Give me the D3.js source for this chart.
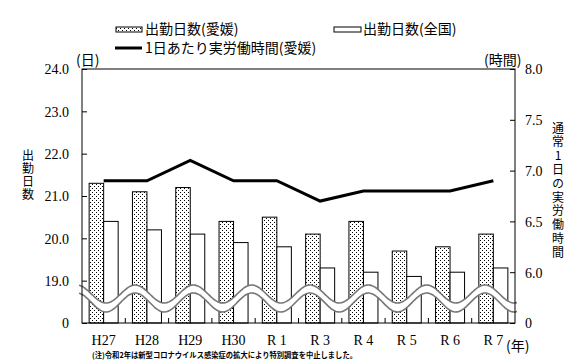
<!DOCTYPE html>
<html><head><meta charset="utf-8">
<script src="https://cdn.jsdelivr.net/npm/d3@7"></script>
<style>
body{margin:0;background:#fff;}
svg{display:block;}
text{font-family:"Noto Sans CJK JP","Noto Sans",sans-serif;fill:#000;}
.num{font-family:"Liberation Serif","DejaVu Serif",serif;}
.vert{writing-mode:vertical-rl;text-orientation:upright;}
</style></head>
<body><svg id="c" width="578" height="360"></svg>
<script>
const categories = ["H27","H28","H29","H30","R 1","R 3","R 4","R 5","R 6","R 7"];
const daysEhime = [21.3,21.1,21.2,20.4,20.5,20.1,20.4,19.7,19.8,20.1];
const daysNational = [20.4,20.2,20.1,19.9,19.8,19.3,19.2,19.1,19.2,19.3];
const hoursEhime = [6.9,6.9,7.1,6.9,6.9,6.7,6.8,6.8,6.8,6.9];
const leftTicks = [18,19,20,21,22,23,24];
const rightTicks = [5.5,6.0,6.5,7.0,7.5,8.0];
const seriesNames = ["出勤日数(愛媛)","出勤日数(全国)","1日あたり実労働時間(愛媛)"];

const svg = d3.select("#c");
const L=82, R=515, T=69, B=323;

const defs = svg.append("defs");
const pat = defs.append("pattern").attr("id","dots").attr("patternUnits","userSpaceOnUse")
  .attr("width",4).attr("height",4);
pat.append("rect").attr("width",4).attr("height",4).attr("fill","#fff");
pat.append("rect").attr("x",0).attr("y",0).attr("width",1).attr("height",1).attr("fill","#000");
pat.append("rect").attr("x",2).attr("y",2).attr("width",1).attr("height",1).attr("fill","#000");

const x = d3.scaleBand().domain(categories).range([L,R]).paddingInner(0.33).paddingOuter(0.165);
const xs = d3.scaleBand().domain(["e","n"]).range([0,x.bandwidth()]);
const yL = d3.scaleLinear().domain([18,24]).range([B,T]);
const yR = d3.scaleLinear().domain([5.5,8]).range([B,T]);

// bars
const g = svg.append("g");
g.selectAll("rect.e").data(categories).join("rect")
  .attr("x",(d)=>x(d)+xs("e")).attr("width",xs.bandwidth())
  .attr("y",(d,i)=>yL(daysEhime[i])).attr("height",(d,i)=>B-yL(daysEhime[i]))
  .attr("fill","url(#dots)").attr("stroke","#000").attr("stroke-width",1);
g.selectAll("rect.n").data(categories).join("rect")
  .attr("x",(d)=>x(d)+xs("n")).attr("width",xs.bandwidth())
  .attr("y",(d,i)=>yL(daysNational[i])).attr("height",(d,i)=>B-yL(daysNational[i]))
  .attr("fill","#fff").attr("stroke","#000").attr("stroke-width",1);

// break wave
const P=58.3, x0=106;
const up = xx => 294 + 9*Math.cos(2*Math.PI*(xx-x0)/P);
const lo = xx => 302.5 + 9.5*Math.cos(2*Math.PI*(xx-x0)/P);
const xsW = d3.range(79, 517.5, 1);
const area = d3.area().x(d=>d).y0(d=>up(d)).y1(d=>lo(d)).curve(d3.curveBasis);
svg.append("path").datum(xsW).attr("d",area).attr("fill","#fff");
const lnU = d3.line().x(d=>d).y(d=>up(d)).curve(d3.curveBasis);
const lnL = d3.line().x(d=>d).y(d=>lo(d)).curve(d3.curveBasis);
svg.append("path").datum(xsW).attr("d",lnU).attr("fill","none").attr("stroke","#777").attr("stroke-width",1.6);
svg.append("path").datum(xsW).attr("d",lnL).attr("fill","none").attr("stroke","#777").attr("stroke-width",1.6);

// frame
svg.append("rect").attr("x",L).attr("y",T).attr("width",R-L).attr("height",B-T)
  .attr("fill","none").attr("stroke","#000").attr("stroke-width",1);

// left axis
const la = svg.append("g").attr("transform",`translate(${L},0)`)
  .call(d3.axisRight(yL).tickValues(leftTicks).tickSize(5).tickFormat(d=>d===18?"0":d3.format(".1f")(d)));
la.select(".domain").remove();
la.selectAll("line").attr("stroke","#000");
la.selectAll("text").attr("class","num").attr("x",-13).attr("text-anchor","end")
  .style("font-size","14px").attr("dy","0.35em");

// right axis
const ra = svg.append("g").attr("transform",`translate(${R},0)`)
  .call(d3.axisLeft(yR).tickValues(rightTicks).tickSize(5).tickFormat(d=>d===5.5?"0":d3.format(".1f")(d)));
ra.select(".domain").remove();
ra.selectAll("line").attr("stroke","#000");
ra.selectAll("text").attr("class","num").attr("x",10).attr("text-anchor","start")
  .style("font-size","14px").attr("dy","0.35em");

// x axis
const xa = svg.append("g").attr("transform",`translate(0,${B})`)
  .call(d3.axisTop(x).tickSize(0));
xa.select(".domain").remove();
xa.selectAll("text").attr("class","num").attr("y",22).attr("dy",0).style("font-size","14px");
// category boundary ticks
svg.append("g").selectAll("line").data(categories.slice(1)).join("line")
  .attr("x1",d=>x(d)-x.step()*x.paddingInner()/2).attr("x2",d=>x(d)-x.step()*x.paddingInner()/2)
  .attr("y1",B).attr("y2",B-5).attr("stroke","#000");

// line
const line = d3.line().x((d,i)=>x(categories[i])+x.bandwidth()/2).y(d=>yR(d));
svg.append("path").datum(hoursEhime).attr("d",line).attr("fill","none")
  .attr("stroke","#000").attr("stroke-width",3).attr("stroke-linejoin","miter");

// legend
svg.append("rect").attr("x",116).attr("y",27).attr("width",26).attr("height",5)
  .attr("fill","url(#dots)").attr("stroke","#000");
svg.append("text").attr("x",145).attr("y",29).attr("dy","0.35em").style("font-size","14px").text(seriesNames[0]);
svg.append("rect").attr("x",334).attr("y",27).attr("width",27).attr("height",5)
  .attr("fill","#fff").attr("stroke","#000");
svg.append("text").attr("x",363).attr("y",29).attr("dy","0.35em").style("font-size","14px").text(seriesNames[1]);
svg.append("line").attr("x1",115).attr("x2",142).attr("y1",48).attr("y2",48).attr("stroke","#000").attr("stroke-width",3);
svg.append("text").attr("x",145).attr("y",48).attr("dy","0.35em").style("font-size","14px").text(seriesNames[2]);

// units
svg.append("text").attr("x",76).attr("y",60).attr("dy","0.35em").style("font-size","14px").text("(日)");
svg.append("text").attr("x",484).attr("y",60).attr("dy","0.35em").style("font-size","14px").text("(時間)");
svg.append("text").attr("x",506).attr("y",346).attr("dy","0.35em").style("font-size","14px").text("(年)");

// vertical titles
svg.append("text").attr("class","vert").attr("x",28).attr("y",175).attr("text-anchor","middle")
  .style("font-size","12px").style("letter-spacing","1px").text("出勤日数");
svg.append("text").attr("class","vert").attr("x",558).attr("y",191).attr("text-anchor","middle")
  .style("font-size","12px").style("letter-spacing","1.8px").text("通常1日の実労働時間");

// footnote
svg.append("text").attr("x",92).attr("y",355).attr("dy","0.35em").style("font-size","7.5px")
  .style("font-weight","bold").attr("textLength",265).attr("lengthAdjust","spacingAndGlyphs")
  .text("(注)令和2年は新型コロナウイルス感染症の拡大により特別調査を中止しました。");
</script></body></html>
